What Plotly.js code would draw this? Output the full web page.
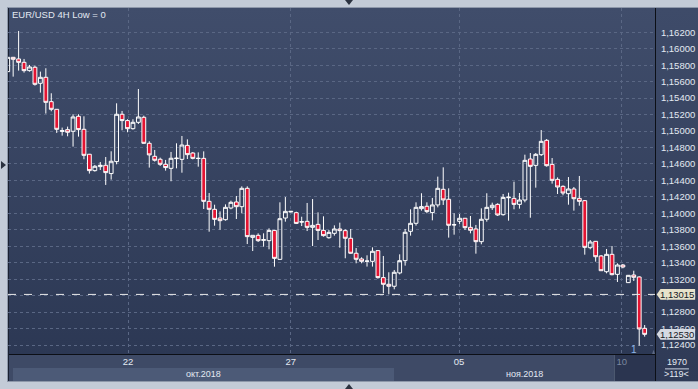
<!DOCTYPE html>
<html>
<head>
<meta charset="utf-8">
<script src="https://cdn.plot.ly/plotly-3.0.1.min.js"></script>
<style>
  html, body { margin:0; padding:0; background:#c3cbd7; }
  #wrap { position:relative; width:698px; height:389px; overflow:hidden; background:#c3cbd7; }
  .p { position:absolute; }
  #chart { position:absolute; left:0; top:0; width:698px; height:389px; }
</style>
</head>
<body>
<div id="wrap">
  <!-- frame / panels -->
  <div class="p" style="left:7px;top:7px;width:691px;height:1px;background:#8e98aa"></div>
  <div class="p" style="left:7px;top:7px;width:1px;height:375px;background:#8e98aa"></div>
  <div class="p" style="left:8px;top:8px;width:648px;height:346px;background:linear-gradient(#404d6b,#2c3854)"></div>
  <div class="p" style="left:656px;top:8px;width:42px;height:373px;background:linear-gradient(#3e4b69,#2f3a56)"></div>
  <div class="p" style="left:8px;top:355px;width:648px;height:26px;background:#3e4a66"></div>
  <div class="p" style="left:13px;top:368px;width:381px;height:13px;background:#4c5a77"></div>
  <div class="p" style="left:614px;top:355px;width:41px;height:26px;background:#2b3550;border-left:1px solid #4c586f"></div>
  <div class="p" style="left:8px;top:354px;width:648px;height:1px;background:#0c0f16"></div>
  <div class="p" style="left:655px;top:8px;width:1px;height:373px;background:#0c0f16"></div>
  <div class="p" style="left:8px;top:8px;width:1px;height:373px;background:#1a2131"></div>
  <div class="p" style="left:7px;top:381px;width:691px;height:1px;background:#8e98aa"></div>
  <!-- small navigation triangles -->
  <div class="p" style="left:345px;top:0px;width:0;height:0;border-left:4px solid transparent;border-right:4px solid transparent;border-top:5px solid #2b3240"></div>
  <div class="p" style="left:345px;top:384px;width:0;height:0;border-left:4px solid transparent;border-right:4px solid transparent;border-bottom:5px solid #2b3240"></div>
  <div class="p" style="left:1px;top:161px;width:0;height:0;border-top:4px solid transparent;border-bottom:4px solid transparent;border-left:5px solid #2b3240"></div>
  <div id="chart"></div>
</div>
<script>
// ---- data (EUR/USD, 4H candles) ----
var open = [
  1.15722,1.15896,1.15876,1.15835,1.15734,1.15775,1.15580,1.15653,1.15357,1.15264,
  1.14995,1.15017,1.14997,1.15179,1.15021,1.14718,1.14519,1.14568,1.14584,1.14483,
  1.14629,1.15204,1.15127,1.15029,1.15106,1.15167,1.14851,1.14693,1.14657,1.14596,
  1.14547,1.14665,1.14656,1.14826,1.14733,1.14670,1.14668,1.14146,1.14049,1.13943,
  1.13923,1.14065,1.14138,1.14081,1.14304,1.13708,1.13733,1.13672,1.13668,1.13793,
  1.13441,1.13943,1.14016,1.14008,1.13899,1.13903,1.13830,1.13866,1.13793,1.13704,
  1.13757,1.13810,1.13790,1.13697,1.13515,1.13446,1.13418,1.13417,1.13547,1.13219,
  1.13138,1.13114,1.13276,1.13425,1.13782,1.13879,1.14057,1.14086,1.14009,1.14102,
  1.14292,1.14171,1.13863,1.13903,1.13940,1.13830,1.13810,1.13656,1.13928,1.14069,
  1.14109,1.13984,1.14190,1.14182,1.14109,1.14162,1.14660,1.14583,1.14713,1.14887,
  1.14595,1.14413,1.14328,1.14239,1.14296,1.14182,1.14154,1.13583,1.13660,1.13482,
  1.13291,1.13502,1.13259,1.13372,1.13158,1.13251,1.13227,1.12603
];
var high = [
  1.15900,1.15900,1.16216,1.15876,1.15803,1.15795,1.15722,1.15763,1.15459,1.15268,
  1.15042,1.15054,1.15204,1.15204,1.15179,1.14722,1.14588,1.14624,1.14685,1.14754,
  1.15337,1.15244,1.15143,1.15143,1.15511,1.15187,1.14876,1.14770,1.14677,1.14649,
  1.14746,1.14851,1.14940,1.14899,1.14745,1.14741,1.14753,1.14247,1.14105,1.14024,
  1.14109,1.14154,1.14211,1.14328,1.14328,1.13733,1.13757,1.13757,1.13818,1.13797,
  1.14134,1.14198,1.14026,1.14020,1.13959,1.14126,1.14174,1.14012,1.13964,1.13797,
  1.13854,1.13887,1.13806,1.13810,1.13579,1.13466,1.13490,1.13587,1.13555,1.13482,
  1.13284,1.13312,1.13502,1.13810,1.14049,1.14134,1.14244,1.14134,1.14187,1.14446,
  1.14559,1.14304,1.14001,1.13992,1.13944,1.13968,1.13859,1.14061,1.14244,1.14130,
  1.14122,1.14235,1.14251,1.14385,1.14247,1.14713,1.14733,1.14733,1.15012,1.14903,
  1.14672,1.14437,1.14340,1.14441,1.14320,1.14454,1.14162,1.13676,1.13664,1.13494,
  1.13567,1.13603,1.13393,1.13385,1.13251,1.13303,1.13235,1.12643
];
var low = [
  1.15715,1.15661,1.15734,1.15710,1.15722,1.15552,1.15467,1.15212,1.15240,1.14977,
  1.14944,1.14936,1.14811,1.14932,1.14657,1.14483,1.14507,1.14527,1.14345,1.14410,
  1.14596,1.15009,1.14985,1.15017,1.15086,1.14847,1.14556,1.14629,1.14576,1.14519,
  1.14390,1.14547,1.14494,1.14660,1.14656,1.14567,1.14053,1.13777,1.13850,1.13801,
  1.13911,1.14049,1.13931,1.14000,1.13627,1.13542,1.13652,1.13595,1.13563,1.13352,
  1.13437,1.13899,1.14014,1.13870,1.13846,1.13785,1.13603,1.13676,1.13717,1.13692,
  1.13729,1.13583,1.13454,1.13511,1.13393,1.13393,1.13353,1.13353,1.13207,1.13029,
  1.13016,1.13077,1.13259,1.13365,1.13729,1.13851,1.14033,1.14001,1.13915,1.14073,
  1.14102,1.13705,1.13741,1.13871,1.13798,1.13757,1.13510,1.13624,1.13899,1.14041,
  1.13968,1.13972,1.13911,1.14049,1.14057,1.14134,1.13947,1.14312,1.14697,1.14567,
  1.14361,1.14235,1.14219,1.14105,1.14033,1.14093,1.13498,1.13563,1.13413,1.13299,
  1.13271,1.13247,1.13166,1.13332,1.13154,1.13178,1.12392,1.12502
];
var close = [
  1.15896,1.15872,1.15835,1.15734,1.15779,1.15568,1.15653,1.15349,1.15264,1.15021,
  1.15005,1.14985,1.15171,1.15017,1.14705,1.14519,1.14572,1.14584,1.14495,1.14633,
  1.15204,1.15127,1.15029,1.15106,1.15171,1.14851,1.14710,1.14645,1.14596,1.14556,
  1.14669,1.14670,1.14830,1.14713,1.14668,1.14666,1.14146,1.14049,1.13927,1.13911,
  1.14073,1.14134,1.14081,1.14304,1.13717,1.13733,1.13668,1.13680,1.13793,1.13453,
  1.13935,1.14024,1.14024,1.13878,1.13895,1.13830,1.13854,1.13793,1.13729,1.13769,
  1.13810,1.13790,1.13697,1.13515,1.13442,1.13417,1.13420,1.13539,1.13219,1.13138,
  1.13114,1.13284,1.13425,1.13770,1.13879,1.14073,1.14082,1.14021,1.14102,1.14304,
  1.14163,1.13855,1.13860,1.13940,1.13826,1.13794,1.13656,1.13928,1.14073,1.14098,
  1.13980,1.14194,1.14196,1.14109,1.14162,1.14644,1.14571,1.14717,1.14875,1.14579,
  1.14401,1.14320,1.14247,1.14296,1.14178,1.14146,1.13587,1.13652,1.13473,1.13303,
  1.13502,1.13255,1.13372,1.13348,1.13247,1.13223,1.12595,1.12530
];
var priceTicks = [1.124,1.126,1.128,1.130,1.132,1.134,1.136,1.138,1.140,1.142,
                  1.144,1.146,1.148,1.150,1.152,1.154,1.156,1.158,1.160,1.162];
var dayLabels = ['22','27','05','10'];
var monthLabels = ['окт.2018','ноя.2018'];
var chartTitle = 'EUR/USD 4H Low = 0';
var levelLine = 1.13015;
var lastPrice = close[close.length - 1];

var bars = open.map(function(_, i){ return i; });

var F = 'Liberation Sans, Arial, sans-serif';
var TXT = '#e3e9f2';

var trace = {
  type:'candlestick', x:bars, open:open, high:high, low:low, close:close,
  increasing:{line:{color:'#ffffff', width:1}, fillcolor:'rgba(0,0,0,0)'},
  decreasing:{line:{color:'#ffffff', width:1}, fillcolor:'#e31432'},
  whiskerwidth:0, hoverinfo:'skip', showlegend:false
};

function fmt(v){ return v.toFixed(5).replace('.', ','); }

var layout = {
  width:698, height:389,
  margin:{l:8, r:43, t:8, b:35, pad:0},
  paper_bgcolor:'rgba(0,0,0,0)', plot_bgcolor:'rgba(0,0,0,0)',
  separators:', ',
  showlegend:false,
  boxgap:0.3, boxgroupgap:0,
  xaxis:{
    range:[0.05, 118.9], rangeslider:{visible:false}, fixedrange:true,
    tickmode:'array', tickvals:[22.1, 52.0, 82.9, 112.8],
    ticktext:dayLabels.map(function(t, i){ return i === 3 ? '<span style="color:#7a889f">'+t+'</span>' : t; }),
    showgrid:true, gridcolor:'#5a6784', griddash:'3px,3px', gridwidth:1,
    zeroline:false, showline:false, ticks:'', ticklen:0,
    tickfont:{family:F, size:9.5, color:TXT}
  },
  yaxis:{
    side:'right', range:[1.12291, 1.16495], fixedrange:true,
    tickmode:'array', tickvals:priceTicks, tickformat:'.5f',
    showgrid:true, gridcolor:'#5a6784', griddash:'3px,3px', gridwidth:1,
    zeroline:false, showline:false, ticks:'outside', ticklen:3, tickcolor:'rgba(0,0,0,0)',
    tickfont:{family:F, size:9.5, color:TXT}
  },
  shapes:[
    {type:'line', xref:'paper', yref:'y', x0:0, x1:1, y0:levelLine, y1:levelLine,
     line:{color:'#e9e9e9', width:1, dash:'8px,8px'}, layer:'above'},
    {type:'path', xref:'paper', yref:'y', layer:'above',
     path:'M 1.0026,'+levelLine+' L 1.0085,'+(levelLine+0.00066)+' L 1.062,'+(levelLine+0.00066)+' L 1.062,'+(levelLine-0.00066)+' L 1.0085,'+(levelLine-0.00066)+' Z',
     fillcolor:'#e7e2cb', line:{width:0}},
    {type:'path', xref:'paper', yref:'y', layer:'above',
     path:'M 1.0026,'+lastPrice+' L 1.0085,'+(lastPrice+0.00066)+' L 1.062,'+(lastPrice+0.00066)+' L 1.062,'+(lastPrice-0.00066)+' L 1.0085,'+(lastPrice-0.00066)+' Z',
     fillcolor:'#d5dae2', line:{width:0}},
    {type:'line', xref:'paper', yref:'paper', x0:1.0155, x1:1.0525, y0:-0.043, y1:-0.043,
     line:{color:'#c9d2e0', width:1}},
    {type:'path', xref:'paper', yref:'paper', path:'M 1.0,0.0 L 0.9955,0.0 L 0.99775,0.012 Z',
     fillcolor:'#5d6984', line:{width:0}}
  ],
  annotations:[
    {text:chartTitle, xref:'paper', yref:'paper', x:0.003, y:0.981, xanchor:'left', yanchor:'middle',
     showarrow:false, font:{family:F, size:9.5, color:TXT}},
    {text:monthLabels[0], xref:'paper', yref:'paper', x:0.3029, y:-0.057, xanchor:'center', yanchor:'middle',
     showarrow:false, font:{family:F, size:9, color:TXT}},
    {text:monthLabels[1], xref:'paper', yref:'paper', x:0.7988, y:-0.057, xanchor:'center', yanchor:'middle',
     showarrow:false, font:{family:F, size:9, color:TXT}},
    {text:'1970', xref:'paper', yref:'paper', x:1.034, y:-0.022, xanchor:'center', yanchor:'middle',
     showarrow:false, font:{family:F, size:9, color:TXT}},
    {text:'>119<', xref:'paper', yref:'paper', x:1.034, y:-0.058, xanchor:'center', yanchor:'middle',
     showarrow:false, font:{family:F, size:9, color:TXT}},
    {text:fmt(levelLine), xref:'paper', yref:'y', x:1.0335, y:levelLine, xanchor:'center', yanchor:'middle',
     showarrow:false, font:{family:F, size:9.5, color:'#15181f'}},
    {text:fmt(lastPrice), xref:'paper', yref:'y', x:1.0335, y:lastPrice, xanchor:'center', yanchor:'middle',
     showarrow:false, font:{family:F, size:9.5, color:'#15181f'}},
    {text:'1', xref:'paper', yref:'paper', x:0.9675, y:0.012, xanchor:'center', yanchor:'middle',
     showarrow:false, font:{family:F, size:10, color:'#8db6e6'}}
  ]
};

Plotly.newPlot('chart', [trace], layout, {staticPlot:true, displayModeBar:false});
</script>
</body>
</html>
